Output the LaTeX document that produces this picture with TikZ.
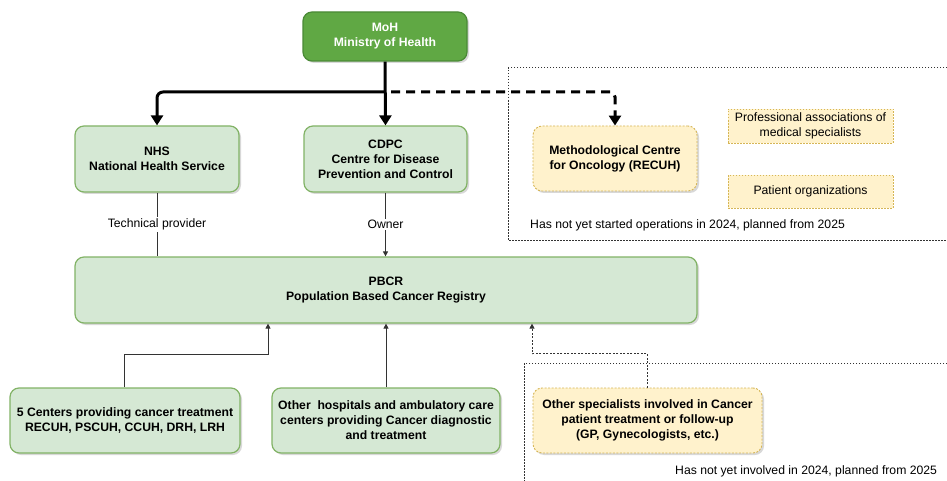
\documentclass[tikz,border=0pt]{standalone}
\usepackage{fontspec}
\setmainfont{Liberation Sans}
\usetikzlibrary{arrows.meta,shadows}
\definecolor{mohfill}{HTML}{60A844}
\definecolor{mohdraw}{HTML}{4A8A36}
\definecolor{gfill}{HTML}{D5E8D4}
\definecolor{gdraw}{HTML}{82B366}
\definecolor{yfill}{HTML}{FFF2CC}
\definecolor{ydraw}{HTML}{D6B656}
\definecolor{lgray}{HTML}{333333}
\tikzset{
  boxbase/.style={rounded corners=9pt, line width=1.2pt, align=center, inner sep=2pt,
    font=\bfseries\fontsize{12.2}{15}\selectfont,
    drop shadow={opacity=0.3, shadow xshift=2pt, shadow yshift=-2pt}},
  mohbox/.style={boxbase, fill=mohfill, draw=mohdraw, text=white},
  gbox/.style={boxbase, fill=gfill, draw=gdraw},
  ybox/.style={boxbase, fill=yfill, draw=ydraw, dash pattern=on 2pt off 1.5pt, line width=0.9pt},
  ydotbox/.style={fill=yfill, draw=ydraw, dash pattern=on 1.5pt off 1.5pt, line width=0.9pt,
    align=center, inner sep=2pt, font=\fontsize{12.2}{15}\selectfont},
  bigarrow/.style={line width=3pt, -{Triangle[width=12pt,length=10pt]}},
  smallarrow/.style={line width=0.9pt, draw=lgray, -{Triangle[width=5pt,length=5pt]}},
  plainline/.style={line width=0.9pt, draw=lgray},
  regionline/.style={line width=1pt, dash pattern=on 1.5pt off 1.5pt, draw=black!80},
  lbl/.style={font=\fontsize{12.2}{15}\selectfont, fill=white, inner sep=1.5pt},
  note/.style={font=\fontsize{12.2}{15}\selectfont, anchor=west, inner sep=0pt}
}
\begin{document}
\begin{tikzpicture}[x=1pt,y=-1pt]
\useasboundingbox[fill=white] (0,0) rectangle (947,481);

% regions
\draw[regionline] (947,68) -- (508,68) -- (508,240) -- (947,240);
\draw[regionline] (947,363) -- (524,363) -- (524,481);

% nodes
\node[mohbox, minimum width=164pt, minimum height=49pt] (moh) at (385,36.5) {MoH\\Ministry of Health};
\node[gbox, minimum width=164pt, minimum height=66pt] (nhs) at (157,159) {NHS\\National Health Service};
\node[gbox, minimum width=163pt, minimum height=66pt] (cdpc) at (385.5,159) {CDPC\\Centre for Disease\\Prevention and Control};
\node[gbox, minimum width=622pt, minimum height=66pt] (pbcr) at (386,290) {PBCR\\Population Based Cancer Registry};
\node[ybox, minimum width=164pt, minimum height=65pt] (met) at (615,158.5) {Methodological Centre\\for Oncology (RECUH)};
\node[ydotbox, minimum width=165pt, minimum height=34pt] (prof) at (810.5,126) {Professional associations of\\medical specialists};
\node[ydotbox, minimum width=165pt, minimum height=33pt] (pat) at (810.5,191.5) {Patient organizations};
\node[gbox, minimum width=230pt, minimum height=65pt] (cen) at (125,420.5) {5 Centers providing cancer treatment\\RECUH, PSCUH, CCUH, DRH, LRH};
\node[gbox, minimum width=228pt, minimum height=65pt] (oth) at (386,420.5) {Other\ \ hospitals and ambulatory care\\centers providing Cancer diagnostic\\and treatment};
\node[ybox, minimum width=229pt, minimum height=65pt] (spe) at (647.5,420.5) {Other specialists involved in Cancer\\patient treatment or follow-up\\(GP, Gynecologists, etc.)};

\node[note] (n1) at (530,225) {Has not yet started operations in 2024, planned from 2025};
\node[note] (n2) at (675,471) {Has not yet involved in 2024, planned from 2025};

% connectors from MoH
\coordinate (j) at (385,92);
\draw[bigarrow] (moh.south) -- (cdpc.north);
\draw[bigarrow, rounded corners=6pt] (j) -| (nhs.north);
\draw[bigarrow, dash pattern=on 9pt off 6pt, rounded corners=5pt] ([xshift=6pt]j) -| (met.north);

% to PBCR
\draw[plainline] (nhs.south) -- node[lbl] {Technical provider} (nhs.south |- pbcr.north);
\draw[smallarrow] (cdpc.south) -- node[lbl] {Owner} (cdpc.south |- pbcr.north);
\draw[smallarrow] ([xshift=-1pt]cen.north) -- ++(0,-33) -| ([xshift=-118pt]pbcr.south);
\draw[smallarrow] (oth.north) -- (oth.north |- pbcr.south);
\draw[smallarrow, dash pattern=on 2pt off 1.5pt] ([xshift=-0.5pt]spe.north) -- ++(0,-34) -| ([xshift=146pt]pbcr.south);
\end{tikzpicture}
\end{document}
